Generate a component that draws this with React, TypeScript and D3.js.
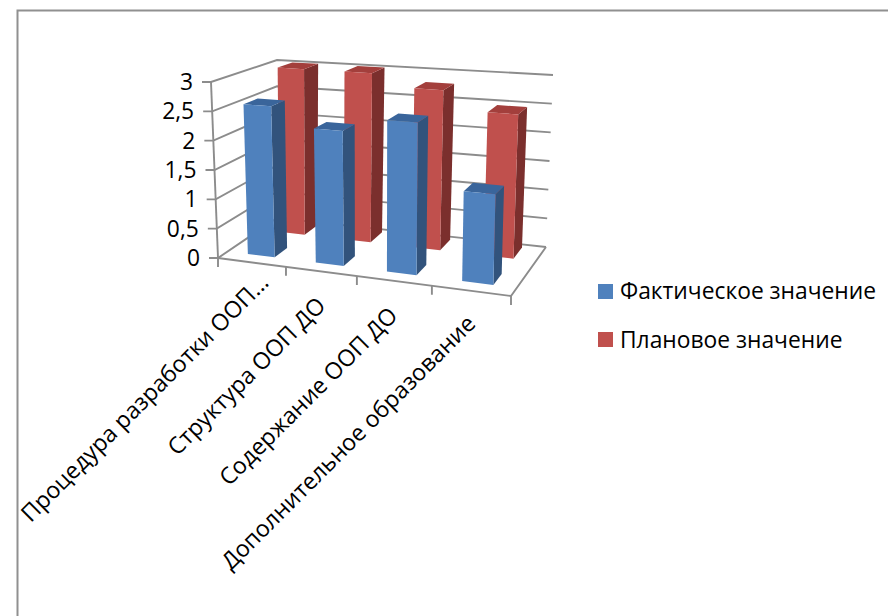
import React from "react";
import * as d3 from "d3";

const categories = ["Процедура разработки ООП…", "Структура ООП ДО", "Содержание ООП ДО", "Дополнительное образование"];
const actual = [2.58, 2.26, 2.5, 1.45];
const planned = [3, 3, 2.78, 2.45];
const yTicks = [0, 0.5, 1, 1.5, 2, 2.5, 3];
const yLabels = ["0", "0,5", "1", "1,5", "2", "2,5", "3"];
const legendNames = ["Фактическое значение", "Плановое значение"];

type P = [number, number];
const lerp = (a: P, b: P, t: number): P => [a[0] + (b[0] - a[0]) * t, a[1] + (b[1] - a[1]) * t];
const quad = (fl: P, fr: P, br: P, bl: P) => (u: number, v: number): P => lerp(lerp(fl, fr, u), lerp(bl, br, u), v);
const floor = quad([218, 258], [511, 296], [546, 247], [277, 218]);
const ceil = quad([211, 82], [516, 104], [553, 75], [277, 60]);
const uWarp = d3.scaleLinear().domain([0, 0.25, 0.5, 0.75, 1]).range([0, 0.232, 0.474, 0.73, 1]);
const yT = d3.scaleLinear().domain([0, 3]).range([0, 1]);
const proj = (u: number, v: number, val: number): P => {
  const w = uWarp(u);
  return lerp(floor(w, v), ceil(w, v), yT(val));
};
const uBand = d3.scaleBand<number>().domain([0, 1, 2, 3]).range([0, 1]).paddingInner(0.6).paddingOuter(0.3);
const line = d3.line<P>();
const closed = (pts: P[]) => line(pts) + "Z";

const GRID = "#8c8c8c";
const depth = { blue: [0.165, 0.39] as P, red: [0.71, 0.94] as P };

function Bar({ i, val, d, front, side, top }: { i: number; val: number; d: P; front: string; side: string; top: string }) {
  const u0 = uBand(i)!, u1 = u0 + uBand.bandwidth();
  const [v0, v1] = d;
  return (
    <g>
      <path d={closed([proj(u1, v0, 0), proj(u1, v1, 0), proj(u1, v1, val), proj(u1, v0, val)])} fill={side} />
      <path d={closed([proj(u0, v0, val), proj(u1, v0, val), proj(u1, v1, val), proj(u0, v1, val)])} fill={top} />
      <path d={closed([proj(u0, v0, 0), proj(u1, v0, 0), proj(u1, v0, val), proj(u0, v0, val)])} fill={front} />
    </g>
  );
}

const labelAnchors: P[] = [[270, 284], [327, 307], [399, 317], [477, 325]];

export default function App() {
  const font = "'Open Sans', sans-serif";
  const fs = 22.8;
  return (
    <svg width={888} height={616} style={{ position: "absolute", left: 0, top: 0, background: "#fff" }} fontFamily={font}>
      <path d="M17.5 616V10.5H888" fill="none" stroke="#909090" strokeWidth={2} />
      {yTicks.map((t) => (
        <g key={t} fill="none" stroke={GRID} strokeWidth={1.9}>
          <path d={line([[proj(0, 0, t)[0] - 9, proj(0, 0, t)[1]], proj(0, 0, t), proj(0, 1, t), proj(1, 1, t)])!} />
        </g>
      ))}
      <path d={line([proj(0, 0, 0), proj(0, 0, 3)])!} stroke={GRID} strokeWidth={1.9} fill="none" />
      <path d={line([proj(0, 0, 0), proj(1, 0, 0), proj(1, 1, 0)])!} stroke={GRID} strokeWidth={1.9} fill="none" />
      {[0, 1, 2, 3, 4].map((k) => {
        const p = proj(k / 4, 0, 0);
        return <path key={k} d={`M${p[0]} ${p[1]}v9`} stroke={GRID} strokeWidth={1.9} />;
      })}
      {planned.map((val, i) => (
        <Bar key={i} i={i} val={val} d={depth.red} front="#c0504d" side="#7b2f2d" top="#a33f3c" />
      ))}
      {actual.map((val, i) => (
        <Bar key={i} i={i} val={val} d={depth.blue} front="#4f81bd" side="#32537c" top="#3a659b" />
      ))}
      {yTicks.map((t, i) => (
        <text key={t} x={proj(0, 0, t)[0] - 18} y={proj(0, 0, t)[1]} dy="0.35em" textAnchor="end" fontSize={fs} fill="#000">{yLabels[i]}</text>
      ))}
      {categories.map((c, i) => (
        <text key={c} transform={`translate(${labelAnchors[i][0]},${labelAnchors[i][1]}) rotate(-45)`} textAnchor="end" fontSize={23.2} fill="#000">{c}</text>
      ))}
      {legendNames.map((n, i) => (
        <g key={n}>
          <rect x={598} y={284 + i * 48} width={15} height={15} fill={i === 0 ? "#4f81bd" : "#c0504d"} />
          <text x={620} y={291 + i * 49} dy="0.35em" fontSize={fs} fill="#000">{n}</text>
        </g>
      ))}
    </svg>
  );
}
